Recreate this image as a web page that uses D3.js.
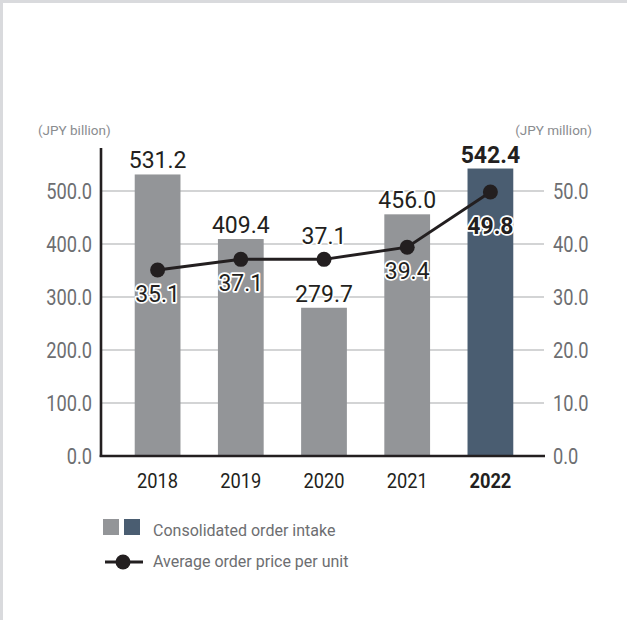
<!DOCTYPE html>
<html>
<head>
<meta charset="utf-8">
<script src="https://cdn.jsdelivr.net/npm/d3@7"></script>
<style>
  html, body { margin: 0; padding: 0; background: #fff; }
  svg { display: block; }
  text { font-family: Roboto, "Noto Sans", sans-serif; }
  /* narrow face for axis numbers */
  .cond { transform-box: fill-box; }
  .cond.end { transform: scaleX(0.83); transform-origin: right center; }
  .cond.start { transform: scaleX(0.83); transform-origin: left center; }
  .cond.mid { transform: scaleX(0.87); transform-origin: center center; }
</style>
</head>
<body>
<svg id="chart" width="627" height="620"></svg>
<script>
// Fiscal years and values
const years = ["2018", "2019", "2020", "2021", "2022"];
const orderIntake = [531.2, 409.4, 279.7, 456.0, 542.4];      // JPY billion
const avgPrice = [35.1, 37.1, 37.1, 39.4, 49.8];              // JPY million
const leftTicks = [0, 100, 200, 300, 400, 500];
const rightTicks = [0, 10, 20, 30, 40, 50];
const priceLabelSide = ["below", "below", "above", "below", "below"];
const highlightYear = "2022";

const svg = d3.select("#chart");
const W = 627, H = 620;

// Page frame: light grey strip on the top and left edges
svg.append("rect").attr("x", 0).attr("y", 0).attr("width", W).attr("height", H).attr("fill", "#fff");
svg.append("rect").attr("x", 0).attr("y", 0).attr("width", W).attr("height", 3).attr("fill", "#d9dadd");
svg.append("rect").attr("x", 0).attr("y", 0).attr("width", 3).attr("height", H).attr("fill", "#d9dadd");

const plotLeft = 101, plotRight = 544, plotBottom = 456, axisTop = 148;

const x = d3.scaleBand().domain(years).range([116, 532]).paddingInner(0.45).paddingOuter(0.225);
const yL = d3.scaleLinear().domain([0, 500]).range([plotBottom, 191]);
const yR = d3.scaleLinear().domain([0, 50]).range([plotBottom, 191]);

const fmt = d3.format(".1f");
const barColor = y => y === highlightYear ? "#4a5d71" : "#939598";

// Gridlines
svg.append("g").selectAll("line").data(leftTicks.filter(d => d > 0)).join("line")
  .attr("x1", plotLeft).attr("x2", plotRight)
  .attr("y1", d => yL(d)).attr("y2", d => yL(d))
  .attr("stroke", "#a7a9ac").attr("stroke-width", 1.2);

// Bars
svg.append("g").selectAll("rect").data(years).join("rect")
  .attr("x", d => x(d)).attr("width", x.bandwidth())
  .attr("y", (d, i) => yL(orderIntake[i]))
  .attr("height", (d, i) => plotBottom - yL(orderIntake[i]))
  .attr("fill", d => barColor(d));

// Left axis
const leftAxis = d3.axisLeft(yL).tickValues(leftTicks).tickFormat(fmt).tickSize(0).tickPadding(9);
const gL = svg.append("g").attr("transform", `translate(${plotLeft},0)`).call(leftAxis);
gL.select(".domain").remove();
gL.selectAll("text").attr("font-size", 22).attr("fill", "#6d6e71").attr("font-family", null)
  .attr("class", "cond end");
svg.append("line").attr("x1", plotLeft).attr("x2", plotLeft).attr("y1", axisTop).attr("y2", plotBottom + 1)
  .attr("stroke", "#231f20").attr("stroke-width", 2.6);

// Right axis
const rightAxis = d3.axisRight(yR).tickValues(rightTicks).tickFormat(fmt).tickSize(0).tickPadding(9);
const gR = svg.append("g").attr("transform", `translate(${plotRight},0)`).call(rightAxis);
gR.select(".domain").remove();
gR.selectAll("text").attr("font-size", 22).attr("fill", "#6d6e71").attr("font-family", null)
  .attr("class", "cond start");

// Bottom axis
const bottomAxis = d3.axisBottom(x).tickSize(0).tickPadding(17);
const gB = svg.append("g").attr("transform", `translate(0,${plotBottom})`).call(bottomAxis);
gB.select(".domain").remove();
gB.selectAll("text").attr("font-size", 21).attr("fill", "#231f20").attr("font-family", null)
  .attr("class", "cond mid")
  .attr("font-weight", d => d === highlightYear ? "bold" : "normal");
svg.append("line").attr("x1", plotLeft - 1.3).attr("x2", plotRight + 1).attr("y1", plotBottom).attr("y2", plotBottom)
  .attr("stroke", "#231f20").attr("stroke-width", 2.6);

// Unit captions
svg.append("text").attr("x", 38).attr("y", 135).attr("font-size", 13.5).attr("fill", "#8a8c8f").text("(JPY billion)");
svg.append("text").attr("x", 592).attr("y", 135).attr("text-anchor", "end").attr("font-size", 13.5).attr("fill", "#8a8c8f").text("(JPY million)");

// Bar value labels
svg.append("g").selectAll("text").data(years).join("text")
  .attr("x", d => x(d) + x.bandwidth() / 2)
  .attr("y", (d, i) => yL(orderIntake[i]) - 6)
  .attr("text-anchor", "middle")
  .attr("font-size", 23)
  .attr("font-weight", d => d === highlightYear ? "bold" : "normal")
  .attr("fill", "#231f20")
  .attr("stroke", "#fff").attr("stroke-width", 3).attr("paint-order", "stroke")
  .text((d, i) => fmt(orderIntake[i]));

// Average price line
const cx = d => x(d) + x.bandwidth() / 2;
const line = d3.line().x((d, i) => cx(years[i])).y(d => yR(d));
svg.append("path").datum(avgPrice).attr("d", line)
  .attr("fill", "none").attr("stroke", "#231f20").attr("stroke-width", 3);
svg.append("g").selectAll("circle").data(avgPrice).join("circle")
  .attr("cx", (d, i) => cx(years[i])).attr("cy", d => yR(d)).attr("r", 7.5)
  .attr("fill", "#231f20");

// Average price labels
svg.append("g").selectAll("text").data(avgPrice).join("text")
  .attr("x", (d, i) => cx(years[i]))
  .attr("y", (d, i) => yR(d) + (priceLabelSide[i] === "above" ? -15 : (years[i] === highlightYear ? 42 : 32)))
  .attr("text-anchor", "middle")
  .attr("font-size", 23)
  .attr("font-weight", (d, i) => years[i] === highlightYear ? "bold" : "normal")
  .attr("fill", "#231f20")
  .attr("stroke", "#fff").attr("stroke-width", 3.5).attr("paint-order", "stroke").attr("stroke-linejoin", "round")
  .text(d => fmt(d));

// Legend
const lg = svg.append("g");
lg.append("rect").attr("x", 103).attr("y", 519).attr("width", 16).attr("height", 16).attr("fill", "#939598");
lg.append("rect").attr("x", 124).attr("y", 519).attr("width", 16).attr("height", 16).attr("fill", "#4a5d71");
lg.append("text").attr("x", 153).attr("y", 536).attr("font-size", 16).attr("fill", "#6d6e71").text("Consolidated order intake");
lg.append("line").attr("x1", 105).attr("x2", 143).attr("y1", 562).attr("y2", 562).attr("stroke", "#231f20").attr("stroke-width", 3);
lg.append("circle").attr("cx", 123).attr("cy", 562).attr("r", 7.5).attr("fill", "#231f20");
lg.append("text").attr("x", 153).attr("y", 567).attr("font-size", 16).attr("fill", "#6d6e71").text("Average order price per unit");
</script>
</body>
</html>
